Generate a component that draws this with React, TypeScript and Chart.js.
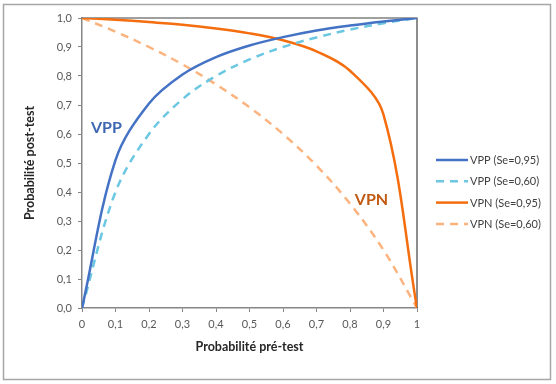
import React, { useEffect, useRef } from "react";
import { Chart, registerables } from "chart.js";

Chart.register(...registerables);

// Pre-test probability (x)
const preTest = [0, 0.1, 0.2, 0.3, 0.4, 0.5, 0.6, 0.7, 0.8, 0.9, 1];
// Post-test probability series
const vppSe95 = [0, 0.51, 0.705, 0.805, 0.865, 0.905, 0.934, 0.957, 0.974, 0.988, 1];
const vppSe60 = [0, 0.4, 0.6, 0.72, 0.8, 0.857, 0.9, 0.933, 0.96, 0.982, 1];
const vpnSe95 = [1, 0.994, 0.986, 0.977, 0.964, 0.947, 0.923, 0.885, 0.818, 0.667, 0];
const vpnSe60 = [1, 0.953, 0.9, 0.84, 0.771, 0.692, 0.6, 0.491, 0.36, 0.2, 0];

const seriesLabels = ["VPP (Se=0,95)", "VPP (Se=0,60)", "VPN (Se=0,95)", "VPN (Se=0,60)"];
const xTitle = "Probabilité pré-test";
const yTitle = "Probabilité post-test";

const FONT = "Lato, 'Open Sans', sans-serif";

const toPoints = (ys: number[]) => preTest.map((x, i) => ({ x, y: ys[i] }));

export default function App() {
  const ref = useRef<HTMLCanvasElement | null>(null);

  useEffect(() => {
    if (!ref.current) return;

    const framePlugin = {
      id: "frame",
      beforeDraw(chart: any) {
        const { ctx } = chart;
        ctx.save();
        ctx.fillStyle = "#ffffff";
        ctx.fillRect(0, 0, chart.width, chart.height);
        ctx.strokeStyle = "#A6A6A6";
        ctx.lineWidth = 1.5;
        ctx.strokeRect(3.5, 4.5, 547, 375);
        ctx.restore();
      },
      beforeDatasetsDraw(chart: any) {
        const { ctx, chartArea: a } = chart;
        ctx.save();
        ctx.strokeStyle = "#404040";
        ctx.lineWidth = 1.2;
        ctx.beginPath();
        ctx.moveTo(a.left, a.top);
        ctx.lineTo(a.right, a.top);
        ctx.lineTo(a.right, a.bottom);
        ctx.stroke();
        ctx.restore();
      },
      afterDraw(chart: any) {
        const { ctx, scales } = chart;
        ctx.save();
        // annotations
        ctx.font = `bold 16px ${FONT}`;
        ctx.textAlign = "center";
        ctx.textBaseline = "middle";
        ctx.fillStyle = "#3C68B2";
        ctx.fillText("VPP", scales.x.getPixelForValue(0.073), scales.y.getPixelForValue(0.62));
        ctx.fillStyle = "#C05A12";
        ctx.fillText("VPN", scales.x.getPixelForValue(0.864), scales.y.getPixelForValue(0.372));

        // legend
        const ds = chart.data.datasets;
        ctx.font = `11px ${FONT}`;
        ctx.textAlign = "left";
        for (let i = 0; i < ds.length; i++) {
          const y = 160 + i * 21.3;
          ctx.strokeStyle = ds[i].borderColor;
          ctx.lineWidth = ds[i].borderWidth;
          ctx.setLineDash(ds[i].borderDash || []);
          ctx.beginPath();
          ctx.moveTo(436, y);
          ctx.lineTo(468, y);
          ctx.stroke();
          ctx.setLineDash([]);
          ctx.fillStyle = "#404040";
          ctx.fillText(ds[i].label, 470, y + 0.5);
        }
        ctx.restore();
      },
    };

    const chart = new Chart(ref.current, {
      type: "line",
      data: {
        datasets: [
          {
            label: seriesLabels[0],
            data: toPoints(vppSe95),
            borderColor: "#4472C4",
            borderWidth: 2.5,
            tension: 0.35,
            pointRadius: 0,
          },
          {
            label: seriesLabels[1],
            data: toPoints(vppSe60),
            borderColor: "#6CC7E2",
            borderWidth: 2.5,
            borderDash: [8, 6],
            tension: 0.35,
            pointRadius: 0,
          },
          {
            label: seriesLabels[2],
            data: toPoints(vpnSe95),
            borderColor: "#F46D0E",
            borderWidth: 2.5,
            tension: 0.35,
            pointRadius: 0,
          },
          {
            label: seriesLabels[3],
            data: toPoints(vpnSe60),
            borderColor: "#FBB47F",
            borderWidth: 2.5,
            borderDash: [8, 6],
            tension: 0.35,
            pointRadius: 0,
          },
        ],
      },
      options: {
        responsive: false,
        maintainAspectRatio: false,
        animation: false,
        devicePixelRatio: 1,
        layout: { padding: { left: 0, top: 18, right: 139, bottom: 0 } },
        plugins: {
          legend: { display: false },
          tooltip: { enabled: false },
        },
        scales: {
          x: {
            type: "linear",
            min: 0,
            max: 1,
            ticks: {
              stepSize: 0.1,
              color: "#595959",
              font: { family: FONT, size: 11 },
              padding: 6,
              maxRotation: 0,
              callback: (v: any) => {
                const n = Number(v);
                if (Math.abs(n) < 1e-9) return "0";
                if (Math.abs(n - 1) < 1e-9) return "1";
                return n.toFixed(1).replace(".", ",");
              },
            },
            grid: {
              drawOnChartArea: false,
              drawTicks: true,
              tickLength: 4,
              color: "#868686",
            },
            border: { display: true, color: "#868686", width: 1.5 },
            title: {
              display: true,
              text: xTitle,
              color: "#262626",
              font: { family: FONT, size: 12.5, weight: "bold" },
              padding: { top: 0, bottom: 30 },
            },
            afterFit: (axis: any) => {
              axis.height = 76;
            },
          },
          y: {
            type: "linear",
            min: 0,
            max: 1,
            ticks: {
              stepSize: 0.1,
              color: "#595959",
              font: { family: FONT, size: 11 },
              padding: 6,
              callback: (v: any) => Number(v).toFixed(1).replace(".", ","),
            },
            grid: {
              drawOnChartArea: false,
              drawTicks: true,
              tickLength: 4,
              color: "#868686",
            },
            border: { display: true, color: "#868686", width: 1.5 },
            title: {
              display: true,
              text: yTitle,
              color: "#262626",
              font: { family: FONT, size: 12.5, weight: "bold" },
              padding: { top: 22, bottom: 0 },
            },
            afterFit: (axis: any) => {
              axis.width = 82;
            },
          },
        },
      } as any,
      plugins: [framePlugin],
    });

    return () => chart.destroy();
  }, []);

  return (
    <div style={{ position: "absolute", left: 0, top: 0, width: 556, height: 384 }}>
      <canvas ref={ref} width={556} height={384} style={{ display: "block" }} />
    </div>
  );
}
